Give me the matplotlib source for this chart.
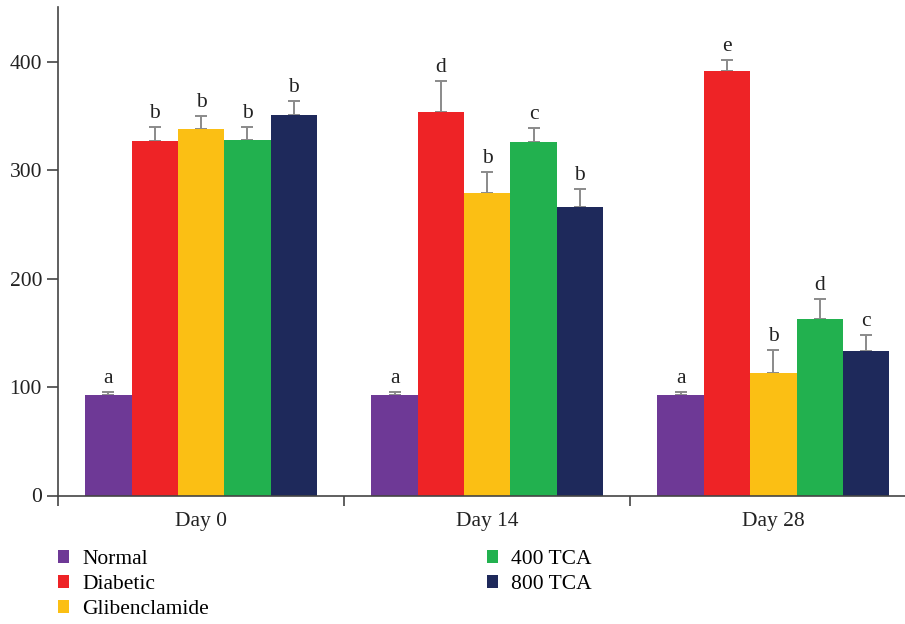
import matplotlib
matplotlib.use("Agg")
import matplotlib.pyplot as plt
import numpy as np
from matplotlib.patches import Patch

days = ["Day 0", "Day 14", "Day 28"]
groups = ["Normal", "Diabetic", "Glibenclamide", "400 TCA", "800 TCA"]
colors = ["#6E3996", "#EE2326", "#FBBF14", "#22B14F", "#1E295B"]

normal = [92.5, 92.5, 93]
diabetic = [326.5, 354, 391]
glibenclamide = [337.5, 279, 113]
tca400 = [328, 326, 163]
tca800 = [350.5, 266, 133]

err_normal = [2.5, 2.5, 2]
err_diabetic = [13, 28, 11]
err_glibenclamide = [12.5, 19, 21.5]
err_tca400 = [12, 13, 18.5]
err_tca800 = [13.5, 17, 15]

letters_normal = ["a", "a", "a"]
letters_diabetic = ["b", "d", "e"]
letters_glibenclamide = ["b", "b", "b"]
letters_tca400 = ["b", "c", "d"]
letters_tca800 = ["b", "b", "c"]

values = [normal, diabetic, glibenclamide, tca400, tca800]
errors = [err_normal, err_diabetic, err_glibenclamide, err_tca400, err_tca800]
letters = [letters_normal, letters_diabetic, letters_glibenclamide, letters_tca400, letters_tca800]

plt.rcParams['font.family'] = ['Liberation Serif', 'DejaVu Serif']
FS = 15.5

fig = plt.figure(figsize=(9.05, 6.24), dpi=100)
ax = fig.add_axes([58/905, 128.5/624, 1 - 58/905, 488/624])

w = 0.162
x = np.arange(len(days))
for i, (vals, errs, labs, col, name) in enumerate(zip(values, errors, letters, colors, groups)):
    pos = x + (i - 2) * w
    ax.bar(pos, vals, width=w, color=col, label=name, zorder=2)
    ax.errorbar(pos, vals, yerr=[np.zeros(len(errs)), errs], fmt='none',
                ecolor='#8a8a8a', elinewidth=1.4, capsize=4.3, capthick=1.4, zorder=1)
    for p, v, e, l in zip(pos, vals, errs, labs):
        ax.annotate(l, (p, v + e), xytext=(0, 6.5), textcoords='offset points',
                    ha='center', va='baseline', fontsize=FS, color='#222222')

ax.set_xlim(-0.5, 2.46)
ax.set_ylim(0, 450)
ax.set_yticks([0, 100, 200, 300, 400])
ax.set_xticks([-0.5, 0.5, 1.5])
ax.set_xticklabels([])
ax.set_xticks(x, minor=True)
ax.set_xticklabels(days, minor=True, fontsize=FS)
ax.tick_params(axis='x', which='minor', length=0, pad=12)
ax.tick_params(axis='x', which='major', length=7, width=1.2, color='#444444')
ax.tick_params(axis='y', length=8, width=1.2, color='#444444', labelsize=FS, pad=3.5)
for s in ['top', 'right']:
    ax.spines[s].set_visible(False)
for s in ['left', 'bottom']:
    ax.spines[s].set_color('#444444')
    ax.spines[s].set_linewidth(1.2)
ax.tick_params(colors='#222222', which='both')
ax.tick_params(axis='both', which='major', color='#444444')

handles = [Patch(facecolor=c, edgecolor='none', label=g) for c, g in zip(colors, groups)]
leg = fig.legend(handles=handles, loc='upper left', bbox_to_anchor=(58/905, 1 - 550/624),
                 ncol=2, frameon=False, fontsize=FS, handlelength=0.52, handleheight=0.52,
                 handletextpad=0.6, labelspacing=0.28, columnspacing=12.9, borderpad=0,
                 borderaxespad=0)

fig.savefig("out.png", dpi=100)
